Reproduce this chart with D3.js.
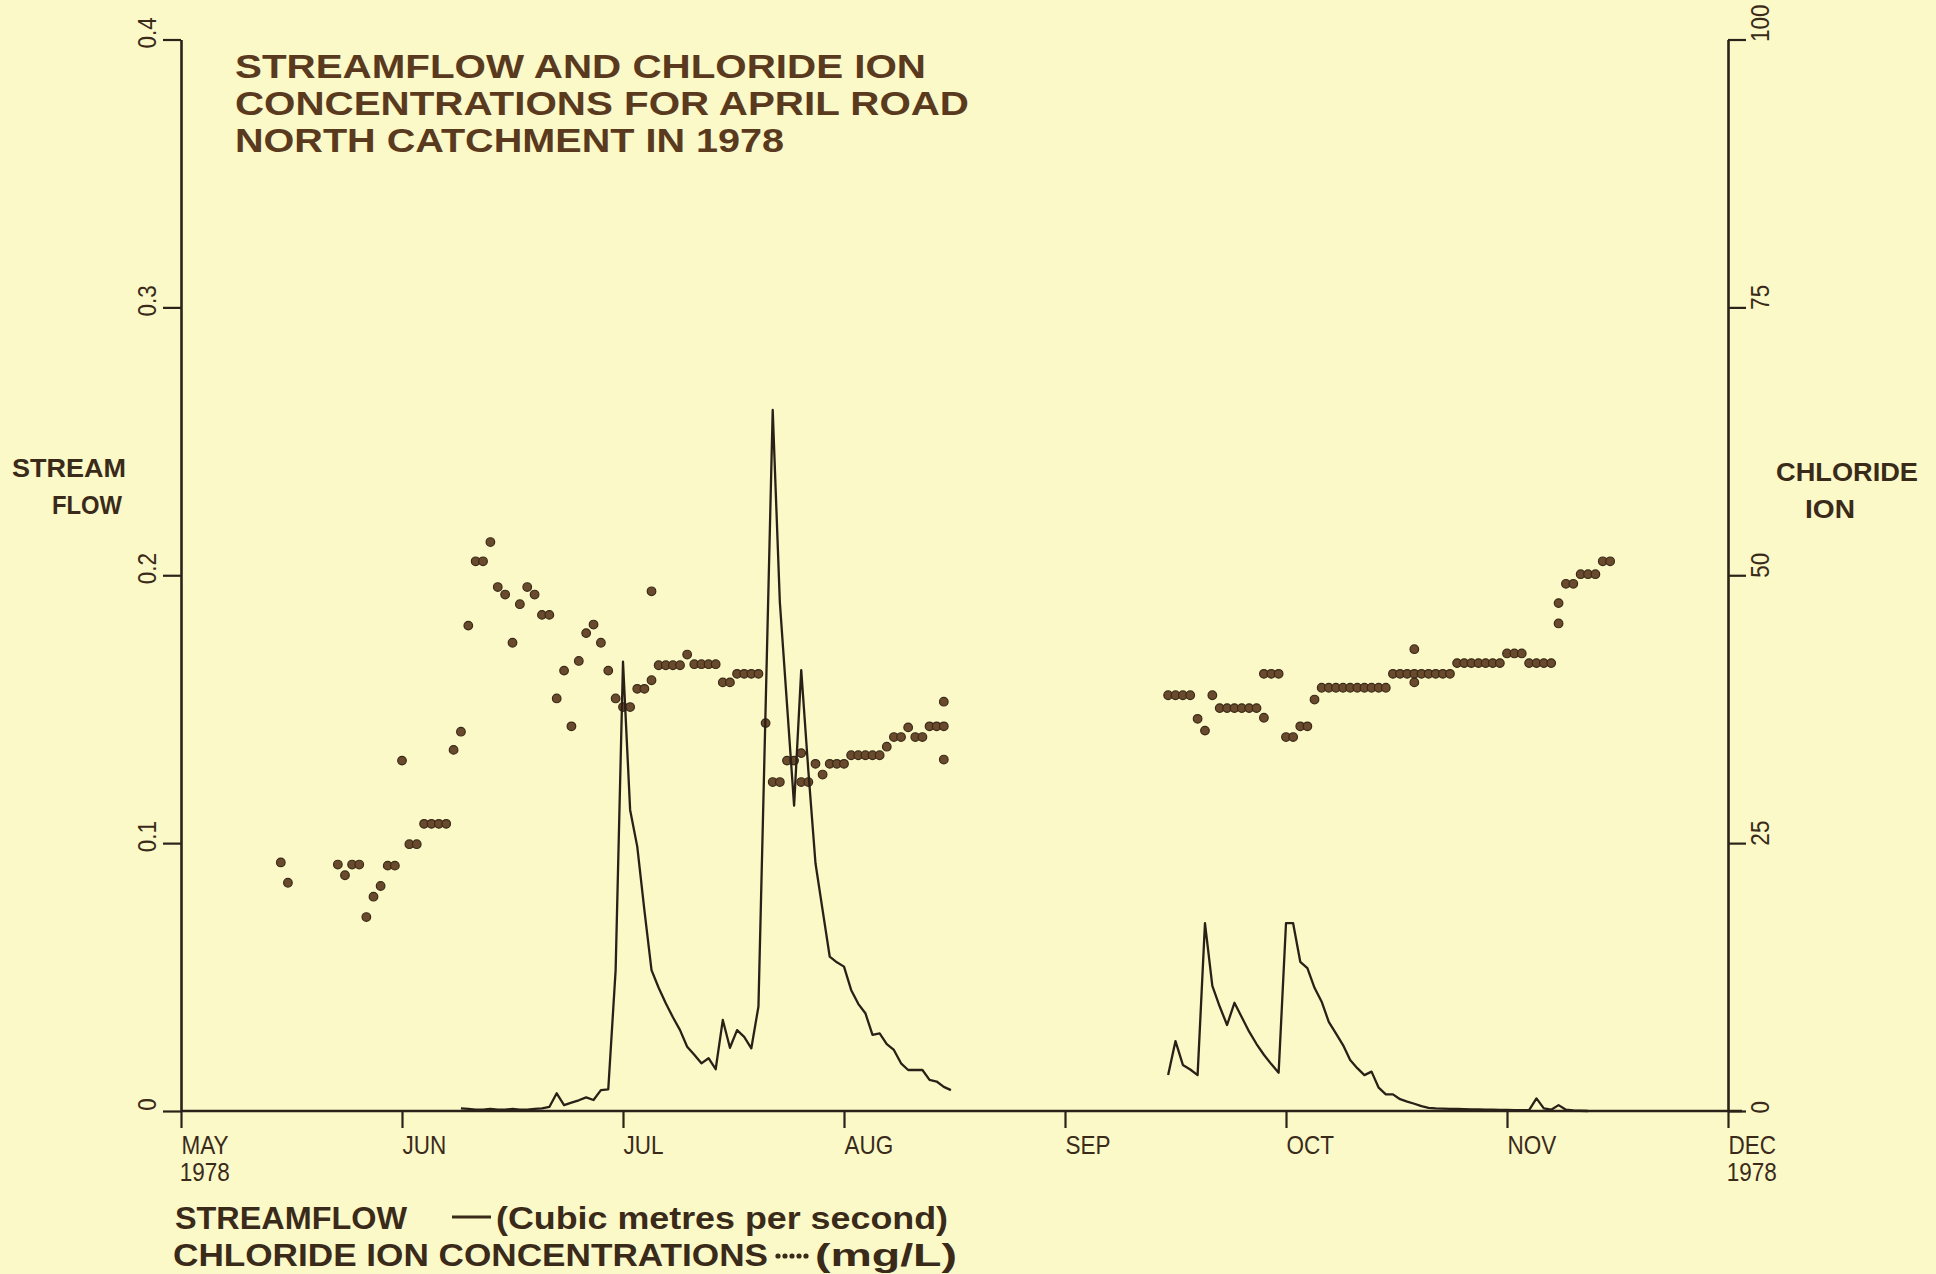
<!DOCTYPE html>
<html><head><meta charset="utf-8">
<script src="https://cdn.jsdelivr.net/npm/d3@7"></script>
<style>
html,body{margin:0;padding:0;background:#fbf9c7;}
svg{display:block;}
text{font-family:"Liberation Sans",Arial,sans-serif;}
</style></head><body>
<svg id="chart" width="1936" height="1274"></svg>
<script>
// ---------- data ----------
const monthLabels = ["MAY","JUN","JUL","AUG","SEP","OCT","NOV","DEC"];
const monthDays   = [31,30,31,31,30,31,30,31];
const yearLabel   = "1978";
const flowTicks = [0, 0.1, 0.2, 0.3, 0.4];
const flowTickLabels = ["0","0.1","0.2","0.3","0.4"];
const chlorideTicks = [0, 25, 50, 75, 100];
const titleLines = ["STREAMFLOW AND CHLORIDE ION","CONCENTRATIONS FOR APRIL ROAD","NORTH CATCHMENT IN 1978"];

// streamflow (m3/s), daily; null = no record
const flowDates = [
 "06-09","06-10","06-11","06-12","06-13","06-14","06-15","06-16","06-17","06-18","06-19","06-20","06-21","06-22","06-23","06-24","06-25","06-26","06-27","06-28","06-29","06-30",
 "07-01","07-02","07-03","07-04","07-05","07-06","07-07","07-08","07-09","07-10","07-11","07-12","07-13","07-14","07-15","07-16","07-17","07-18","07-19","07-20","07-21","07-22","07-23","07-24","07-25","07-26","07-27","07-28","07-29","07-30","07-31",
 "08-01","08-02","08-03","08-04","08-05","08-06","08-07","08-08","08-09","08-10","08-11","08-12","08-13","08-14","08-15","08-16",
 "08-17",
 "09-15","09-16","09-17","09-18","09-19","09-20","09-21","09-22","09-23","09-24","09-25","09-26","09-27","09-28","09-29","09-30",
 "10-01","10-02","10-03","10-04","10-05","10-06","10-07","10-08","10-09","10-10","10-11","10-12","10-13","10-14","10-15","10-16","10-17","10-18","10-19","10-20","10-21","10-22","10-23","10-24","10-25","10-26","10-27","10-28","10-29","10-30","10-31",
 "11-01","11-02","11-03","11-04","11-05","11-06","11-07","11-08","11-09","11-10","11-11","11-12"
];
const flowValues = [
 0.001,0.0008,0.0005,0.0005,0.0008,0.0005,0.0005,0.0008,0.0005,0.0005,0.0008,0.001,0.0015,0.0066,0.0022,0.0031,0.004,0.0051,0.0041,0.0078,0.0081,0.0526,
 0.1677,0.1124,0.0987,0.075,0.0526,0.046,0.0402,0.035,0.0302,0.024,0.021,0.0178,0.0197,0.0156,0.034,0.0236,0.0302,0.0277,0.0234,0.039,0.15,0.2617,0.19,0.152,0.114,0.1646,0.127,0.0925,0.075,0.0576,0.0555,
 0.0539,0.0452,0.040,0.0365,0.0284,0.029,0.025,0.0228,0.0178,0.0153,0.0153,0.0153,0.0116,0.011,0.009,0.0078,
 null,
 0.0134,0.0261,0.0172,0.0155,0.0134,0.0701,0.0467,0.039,0.0321,0.0404,0.035,0.0296,0.025,0.021,0.0175,0.0143,
 0.0701,0.0701,0.0557,0.0533,0.046,0.0408,0.0333,0.029,0.0246,0.019,0.016,0.0134,0.0147,0.0087,0.0062,0.0062,0.0044,0.0035,0.0027,0.0018,0.0012,0.001,0.0009,0.0008,0.0008,0.0007,0.0006,0.0006,0.0005,0.0005,0.0004,
 0.0004,0.0003,0.0003,0.0003,0.0047,0.001,0.0005,0.0022,0.0005,0.0002,0.0001,0
];

// chloride ion (mg/L)
const chlorideDates = [
 "05-15","05-16","05-23","05-24","05-25","05-26","05-27","05-28","05-29","05-30","05-31",
 "06-01","06-02","06-03","06-04","06-05","06-06","06-07","06-08","06-09","06-10","06-11","06-12","06-13","06-14","06-15","06-16","06-17","06-18","06-19","06-20","06-21","06-22","06-23","06-24","06-25","06-26","06-27","06-28","06-29","06-30",
 "07-01","07-02","07-03","07-04","07-05","07-05","07-06","07-07","07-08","07-09","07-10","07-11","07-12","07-13","07-14","07-15","07-16","07-17","07-18","07-19","07-20","07-21","07-22","07-23","07-24","07-25","07-26","07-26","07-27","07-28","07-29","07-30","07-31",
 "08-01","08-02","08-03","08-04","08-05","08-06","08-07","08-08","08-09","08-10","08-11","08-12","08-13","08-14","08-15","08-15","08-15",
 "09-15","09-16","09-17","09-18","09-19","09-20","09-21","09-22","09-23","09-24","09-25","09-26","09-27","09-28","09-28","09-29","09-30",
 "10-01","10-02","10-03","10-04","10-05","10-06","10-07","10-08","10-09","10-10","10-11","10-12","10-13","10-14","10-15","10-16","10-17","10-18","10-19","10-19","10-19","10-20","10-21","10-22","10-23","10-24","10-25","10-26","10-27","10-28","10-29","10-30","10-31",
 "11-01","11-02","11-03","11-04","11-05","11-06","11-07","11-08","11-08","11-09","11-10","11-11","11-12","11-13","11-14","11-15"
];
const chlorideValues = [
 23.2,21.3,23.0,22.0,23.0,23.0,18.1,20.0,21.0,22.9,22.9,
 32.7,24.9,24.9,26.8,26.8,26.8,26.8,33.7,35.4,45.3,51.3,51.3,53.1,48.9,48.2,43.7,47.3,48.9,48.2,46.3,46.3,38.5,41.1,35.9,42.0,44.6,45.4,43.7,41.1,38.5,
 37.7,37.7,39.4,39.4,40.2,48.5,41.6,41.6,41.6,41.6,42.6,41.7,41.7,41.7,41.7,40.0,40.0,40.8,40.8,40.8,40.8,36.2,30.7,30.7,32.7,32.7,33.4,30.7,30.7,32.4,31.4,32.4,32.4,
 32.4,33.2,33.2,33.2,33.2,33.2,34.0,34.9,34.9,35.8,34.9,34.9,35.9,35.9,35.9,38.2,32.8,
 38.8,38.8,38.8,38.8,36.6,35.5,38.8,37.6,37.6,37.6,37.6,37.6,37.6,36.7,40.8,40.8,40.8,
 34.9,34.9,35.9,35.9,38.4,39.5,39.5,39.5,39.5,39.5,39.5,39.5,39.5,39.5,39.5,40.8,40.8,40.8,40.8,43.1,40.0,40.8,40.8,40.8,40.8,40.8,41.8,41.8,41.8,41.8,41.8,41.8,41.8,
 42.7,42.7,42.7,41.8,41.8,41.8,41.8,47.4,45.5,49.2,49.2,50.1,50.1,50.1,51.3,51.3
];

// ---------- helpers ----------
function monthPos(s){
  const [m,d] = s.split("-").map(Number);
  const mi = m - 5;
  return mi + (d - 1) / monthDays[mi];
}

const svg = d3.select("#chart");
const W = 1936, H = 1274;
svg.append("rect").attr("width",W).attr("height",H).attr("fill","#fbf9c7");

const axisColor = "#2b2219";
const textColor = "#3a2a1a";
const titleColor = "#5a3a1e";

const x = d3.scaleLinear().domain([0, 7]).range([181, 1728]);
const yFlow = d3.scaleLinear().domain([0, 0.4]).range([1111, 39.5]);
const yCl = d3.scaleLinear().domain([0, 100]).range([1111, 39.5]);

// ---------- axes ----------
const gx = svg.append("g").attr("transform", `translate(0,${yFlow(0)})`)
  .call(d3.axisBottom(x).tickValues(d3.range(8)).tickFormat(i => monthLabels[i]).tickSize(17).tickSizeOuter(0));
gx.select(".domain").attr("d", `M${x(0)},0H${x(7)+14}`);
gx.selectAll("line").attr("stroke", axisColor).attr("stroke-width", 2.2);
gx.select(".domain").attr("stroke", axisColor).attr("stroke-width", 2.6);
gx.selectAll(".tick text")
  .attr("text-anchor","start").attr("x",0).attr("y",0).attr("dy",null)
  .attr("fill", textColor).attr("font-size", 25)
  .attr("transform","translate(0,43) scale(0.9,1)")
  .each(function(d){
    if (d === 0 || d === 7) {
      d3.select(this).append("tspan").attr("x",-2).attr("dy",27).text(yearLabel);
    }
  });

const gl = svg.append("g").attr("transform", `translate(${x(0)},0)`)
  .call(d3.axisLeft(yFlow).tickValues(flowTicks).tickFormat((d,i) => flowTickLabels[i]).tickSize(18).tickSizeOuter(0));
gl.select(".domain").attr("stroke", axisColor).attr("stroke-width", 2.6);
gl.selectAll("line").attr("stroke", axisColor).attr("stroke-width", 2.2);
gl.selectAll(".tick text")
  .attr("x",0).attr("y",0).attr("dy","0.35em").attr("text-anchor","middle")
  .attr("fill", textColor).attr("font-size", 25)
  .attr("transform","translate(-34,-7) rotate(-90) scale(0.9,1)");

const gr = svg.append("g").attr("transform", `translate(${x(7)},0)`)
  .call(d3.axisRight(yCl).tickValues(chlorideTicks).tickSize(18).tickSizeOuter(0));
gr.select(".domain").attr("stroke", axisColor).attr("stroke-width", 2.6);
gr.selectAll("line").attr("stroke", axisColor).attr("stroke-width", 2.2);
gr.selectAll(".tick text")
  .attr("x",0).attr("y",0).attr("dy","0.35em").attr("text-anchor","start")
  .attr("fill", textColor).attr("font-size", 25)
  .attr("transform","translate(32,2) rotate(-90) scale(0.9,1)");

// ---------- chloride dots ----------
const clData = chlorideDates.map((d,i) => ({m: monthPos(d), v: chlorideValues[i]}));
svg.append("g").selectAll("circle").data(clData).join("circle")
  .attr("cx", d => x(d.m)).attr("cy", d => yCl(d.v)).attr("r", 4.3)
  .attr("fill", "#6a4a2c").attr("stroke", "#3a2a18").attr("stroke-width", 1.2);

// ---------- streamflow line ----------
const flowData = flowDates.map((d,i) => ({m: monthPos(d), v: flowValues[i]}));
svg.append("path").datum(flowData)
  .attr("fill","none").attr("stroke","#2a2017").attr("stroke-width",2.3).attr("stroke-linejoin","round")
  .attr("d", d3.line().defined(d => d.v !== null).x(d => x(d.m)).y(d => yFlow(d.v)));

// ---------- titles ----------
const titleLen = [691, 734, 549];
const title = svg.append("g").attr("fill", titleColor).attr("font-weight","bold").attr("font-size",33);
titleLines.forEach((t,i) => {
  title.append("text").attr("x",235).attr("y",78 + i*37).attr("textLength",titleLen[i])
    .attr("lengthAdjust","spacingAndGlyphs").text(t);
});

const al = svg.append("g").attr("fill", textColor).attr("font-weight","bold").attr("font-size",26);
al.append("text").attr("x",12).attr("y",477).attr("textLength",114).attr("lengthAdjust","spacingAndGlyphs").text("STREAM");
al.append("text").attr("x",52).attr("y",514).attr("textLength",70).attr("lengthAdjust","spacingAndGlyphs").text("FLOW");
al.append("text").attr("x",1776).attr("y",481).attr("textLength",142).attr("lengthAdjust","spacingAndGlyphs").text("CHLORIDE");
al.append("text").attr("x",1805).attr("y",518).attr("textLength",50).attr("lengthAdjust","spacingAndGlyphs").text("ION");

// ---------- legend ----------
const lg = svg.append("g").attr("fill", textColor).attr("font-weight","bold").attr("font-size",32);
lg.append("text").attr("x",175).attr("y",1229).attr("textLength",232).attr("lengthAdjust","spacingAndGlyphs").text("STREAMFLOW");
lg.append("line").attr("x1",452).attr("x2",491).attr("y1",1217).attr("y2",1217).attr("stroke",textColor).attr("stroke-width",3);
lg.append("text").attr("x",496).attr("y",1229).attr("textLength",452).attr("lengthAdjust","spacingAndGlyphs").text("(Cubic metres per second)");
lg.append("text").attr("x",173).attr("y",1266).attr("textLength",595).attr("lengthAdjust","spacingAndGlyphs").text("CHLORIDE  ION  CONCENTRATIONS");
lg.selectAll("circle.leg").data(d3.range(5)).join("circle").attr("class","leg")
  .attr("cx", i => 778 + i*7).attr("cy",1256).attr("r",2.6).attr("fill",textColor);
lg.append("text").attr("x",815).attr("y",1266).attr("textLength",142).attr("lengthAdjust","spacingAndGlyphs").text("(mg/L)");
</script>
</body></html>
